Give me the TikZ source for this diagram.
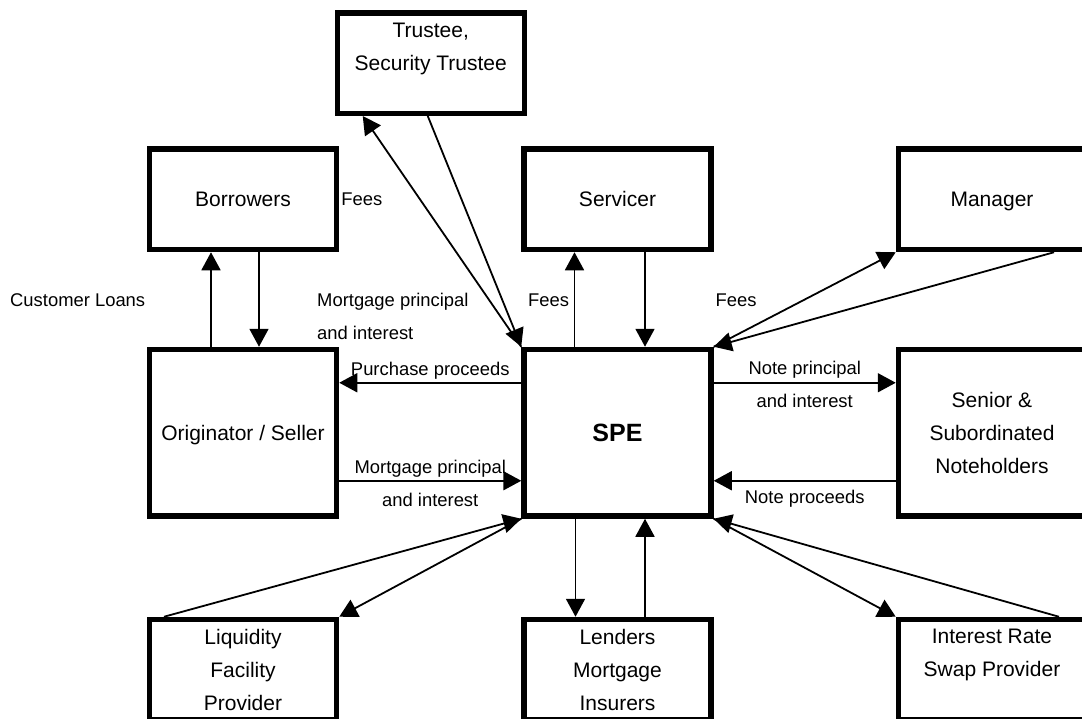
\documentclass[tikz,border=0pt]{standalone}
\usepackage{fontspec}
\setmainfont{Liberation Sans}
\usepackage{tikz}
\usetikzlibrary{arrows.meta,calc}
\newcommand{\partyfont}{\fontsize{21}{33}\selectfont}
\newcommand{\flowfont}{\fontsize{18.4}{33}\selectfont}
\tikzset{
  party box/.style={
    draw,
    line width=5.5pt,
    minimum width=187pt,
    minimum height=100.5pt,
    inner sep=2pt,
    align=center,
    font=\partyfont
  },
  party tall/.style={
    party box,
    minimum height=166.5pt
  },
  flow arrow/.style={
    -{Triangle[length=18pt,width=19pt]},
    line width=1.8pt
  },
  flow label/.style={
    inner sep=2pt,
    align=center,
    font=\flowfont
  }
}

\begin{document}
\begin{tikzpicture}[x=1pt,y=-1pt]
  \useasboundingbox (0,0) rectangle (1082,718);
  \clip (0,0) rectangle (1082,718);

  % Parties
  \node[party box] (trustee) at (430.75,63) {Trustee,\\Security Trustee\\\mbox{}};
  \node[party box] (borrow) at (243,199.25) {Borrowers};
  \node[party box] (servicer) at (617.5,199.25) {Servicer};
  \node[party box, text depth=0pt] (manager) at (992,199.25) {Manager};
  \node[party tall, text depth=0pt] (orig) at (243,432.75) {Originator / Seller};
  \node[party tall, font=\fontsize{25}{30}\selectfont\bfseries] (spe) at (617.5,432.75) {SPE};
  \node[party tall] (notes) at (992,432.75) {Senior \&\\Subordinated\\Noteholders};
  \node[party box] (liq) at (243,669.75) {Liquidity\\Facility\\Provider};
  \node[party box] (lmi) at (617.5,669.75) {Lenders\\Mortgage\\Insurers};
  \node[party box] (swap) at (992,669.75) {Interest Rate\\Swap Provider\\\mbox{}};

  % Borrowers and originator
  \draw[flow arrow] ([xshift=-32pt]orig.north) -- ([xshift=-32pt]borrow.south);
  \draw[flow arrow] ([xshift=16pt]borrow.south) -- ([xshift=16pt]orig.north);

  % Trustee
  \draw[flow arrow] (spe.north west) -- ([xshift=-68pt]trustee.south);
  \draw[flow arrow] ([xshift=-3pt]trustee.south) -- (spe.north west);

  % Servicer and manager
  \draw[flow arrow] ([xshift=-43pt]spe.north) -- ([xshift=-43pt]servicer.south);
  \draw[flow arrow] ([xshift=27.5pt]servicer.south) -- ([xshift=27.5pt]spe.north);
  \draw[flow arrow] (spe.north east) -- (manager.south west);
  \draw[flow arrow] ([xshift=62pt]manager.south) -- (spe.north east);

  % Originator <-> SPE
  \draw[flow arrow] ([yshift=50pt]spe.west) -- ([yshift=50pt]orig.east)
    node[flow label, midway, above=1pt] {Purchase proceeds};
  \draw[flow arrow] ([yshift=-48pt]orig.east) -- ([yshift=-48pt]spe.west)
    node[flow label, midway, yshift=-3pt] {Mortgage principal\\and interest};

  % SPE <-> noteholders
  \draw[flow arrow] ([yshift=50pt]spe.east) -- ([yshift=50pt]notes.west)
    node[flow label, midway, yshift=-2pt] {Note principal\\and interest};
  \draw[flow arrow] ([yshift=-48pt]notes.west) -- ([yshift=-48pt]spe.east)
    node[flow label, midway, below=7pt] {Note proceeds};

  % Support providers
  \draw[flow arrow] ([xshift=-79pt]liq.north) -- (spe.south west);
  \draw[flow arrow] (spe.south west) -- (liq.north east);
  \draw[flow arrow] ([xshift=-42pt]spe.south) -- ([xshift=-42pt]lmi.north);
  \draw[flow arrow] ([xshift=27.5pt]lmi.north) -- ([xshift=27.5pt]spe.south);
  \draw[flow arrow] (spe.south east) -- (swap.north west);
  \draw[flow arrow] ([xshift=67pt]swap.north) -- (spe.south east);

  % Free labels
  \node[flow label, anchor=west] (loans) at (8,300.4) {Customer Loans};
  \node[flow label, anchor=west] (feestr) at (borrow.east) {Fees};
  \node[flow label, align=left, anchor=west] (mortgage) at (315,316.5) {Mortgage principal\\and interest};
  \node[flow label] (feessv) at (548.5,300.4) {Fees};
  \node[flow label] (feesmg) at (736,300.4) {Fees};
\end{tikzpicture}
\end{document}
